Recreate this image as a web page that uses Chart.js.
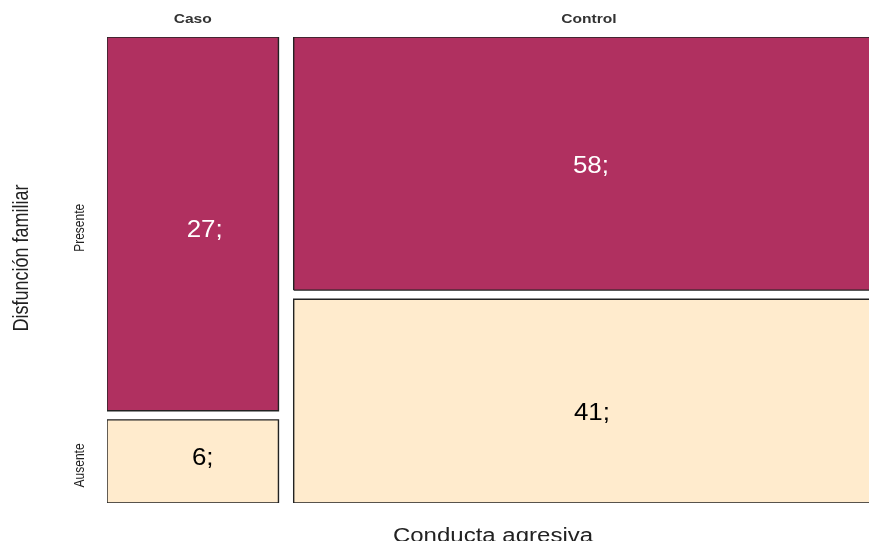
<!DOCTYPE html>
<html>
<head>
<meta charset="utf-8">
<script src="https://cdn.jsdelivr.net/npm/chart.js@4.4.0/dist/chart.umd.min.js"></script>
<style>
html, body { margin: 0; padding: 0; background: #fff; }
#wrap { width: 869px; height: 541px; position: relative; }
</style>
</head>
<body>
<div id="wrap"><canvas id="mosaic"></canvas></div>
<script>
// mosaic: Conducta agresiva (columns) x Disfuncion familiar (rows)
var columns = ['Caso', 'Control'];
var rowLabels = ['Presente', 'Ausente'];
var casoCounts = [27, 6];
var controlCounts = [58, 41];
// widths / heights of the tiles
var columnShare = [0.225, 0.775];
var casoShare = [0.818, 0.182];
var controlShare = [0.554, 0.446];

var gap = 0.02;
var rowColors = ['#B03060', '#FFEBCD'];
var textColors = ['#ffffff', '#000000'];

var counts = [casoCounts, controlCounts];
var shares = [casoShare, controlShare];

// build tiles (bottom row first, like the plot)
var tiles = [];
var x0 = 0;
for (var c = 0; c < columns.length; c++) {
    var x1 = x0 + columnShare[c];
    var y0 = 0;
    for (var r = rowLabels.length - 1; r >= 0; r--) {
        var y1 = y0 + shares[c][r];
        tiles.push({ x0: x0, x1: x1, y0: y0, y1: y1, row: r, col: c, n: counts[c][r] });
        y0 = y1 + gap;
    }
    x0 = x1 + gap;
}

var datasets = tiles.map(function (t) {
    return {
        data: [
            { x: t.x0, y: t.y0 }, { x: t.x0, y: t.y1 },
            { x: t.x1, y: t.y1 }, { x: t.x1, y: t.y0 },
            { x: t.x0, y: t.y0 }
        ],
        showLine: true,
        fill: 'shape',
        backgroundColor: rowColors[t.row],
        borderColor: '#222222',
        borderWidth: 1.4,
        pointRadius: 0,
        tension: 0
    };
});

function drawText(ctx, text, x, y, font, color, sx, sy, angle, baseline) {
    ctx.save();
    ctx.translate(x, y);
    if (angle) ctx.rotate(angle);
    ctx.scale(sx, sy);
    ctx.font = font;
    ctx.fillStyle = color;
    ctx.textAlign = 'center';
    ctx.textBaseline = baseline || 'middle';
    ctx.fillText(text, 0, 0);
    ctx.restore();
}

// label nudges [col][row] in px, as placed in the original plot
var labelNudge = [[[12, 7], [10, -3]], [[2, 3], [3, 12]]];

var mosaicText = {
    id: 'mosaicText',
    afterDraw: function (chart) {
        var ctx = chart.ctx;
        var xs = chart.scales.x;
        var ys = chart.scales.y;
        var fam = "'Liberation Sans', Arial, sans-serif";

        // column strip labels
        var colStart = 0;
        for (var c = 0; c < columns.length; c++) {
            var cx = xs.getPixelForValue(colStart + columnShare[c] / 2);
            drawText(ctx, columns[c], cx, 20, 'bold 12px ' + fam, '#333333', 1.3, 1);
            colStart += columnShare[c] + gap;
        }

        // counts in the tiles
        tiles.forEach(function (t) {
            var nd = labelNudge[t.col][t.row];
            var px = xs.getPixelForValue((t.x0 + t.x1) / 2) + nd[0];
            var py = ys.getPixelForValue((t.y0 + t.y1) / 2) + nd[1];
            drawText(ctx, t.n + ';', px, py, '24px ' + fam, textColors[t.row], 1.08, 1);
        });

        // row labels (from the first column)
        tiles.forEach(function (t) {
            if (t.col !== 0) return;
            var py = ys.getPixelForValue((t.y0 + t.y1) / 2) + 4;
            drawText(ctx, rowLabels[t.row], 80, py, '12px ' + fam, '#222222', 1, 1.15, -Math.PI / 2);
        });

        // axis titles
        drawText(ctx, 'Disfunción familiar', 22, 258, '18px ' + fam, '#222222', 1, 1.2, -Math.PI / 2);
        drawText(ctx, 'Conducta agresiva', 493, 542, '20px ' + fam, '#222222', 1.2, 1, 0, 'alphabetic');
    }
};

new Chart(document.getElementById('mosaic'), {
    type: 'scatter',
    data: { datasets: datasets },
    options: {
        responsive: true,
        maintainAspectRatio: false,
        animation: false,
        layout: { padding: { left: 107, top: 37, right: 0, bottom: 38 } },
        scales: {
            x: { type: 'linear', min: 0, max: 1, display: false },
            y: { type: 'linear', min: 0, max: 1 + gap, display: false }
        },
        plugins: {
            legend: { display: false },
            tooltip: { enabled: false }
        }
    },
    plugins: [mosaicText]
});
</script>
</body>
</html>
